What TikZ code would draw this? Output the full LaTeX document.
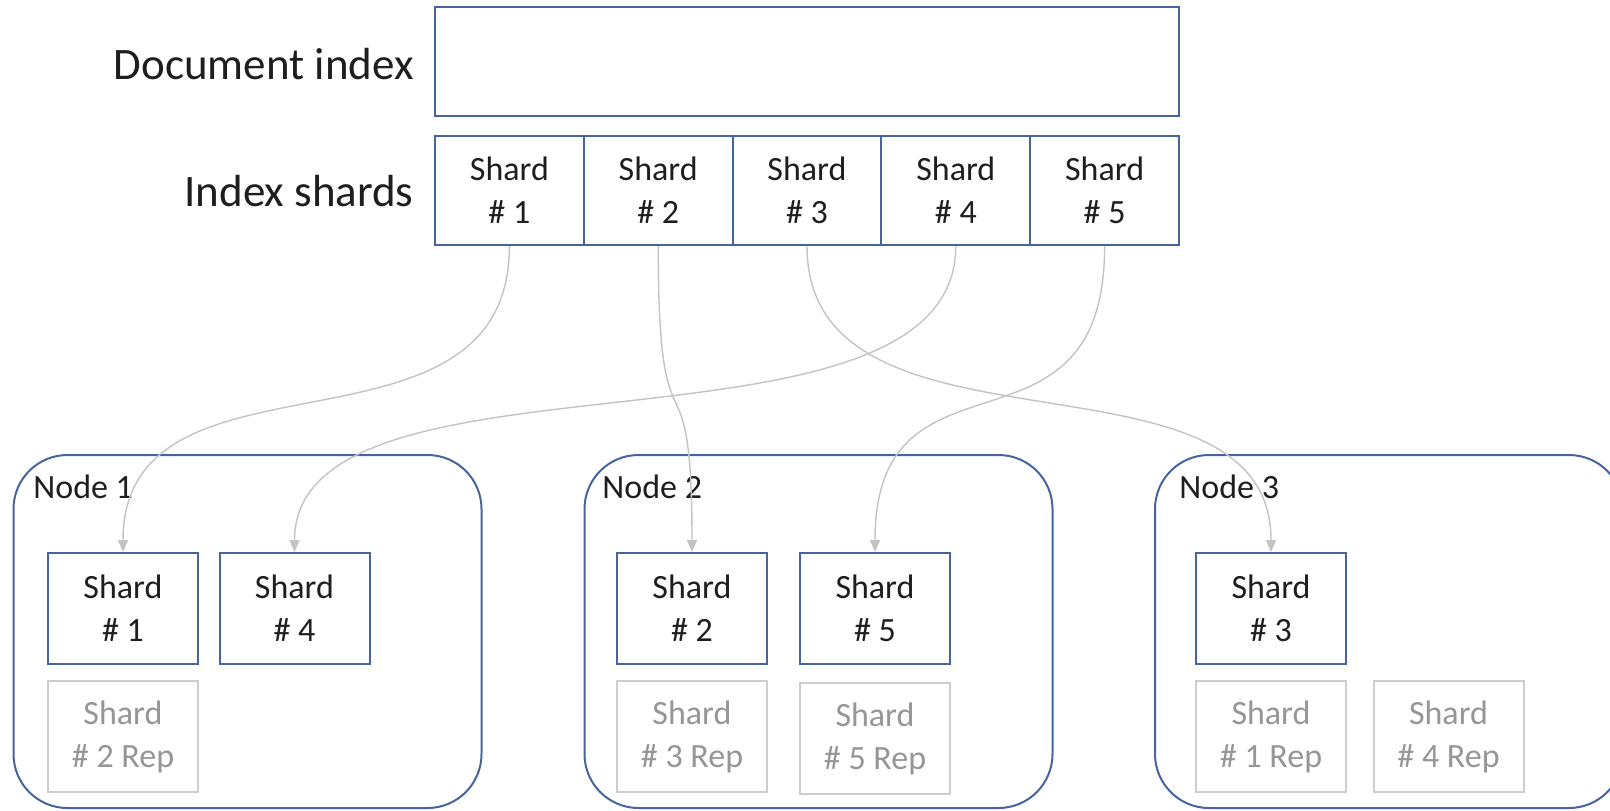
\documentclass[tikz,border=0pt]{standalone}
\usepackage{fontspec}
\setmainfont{Carlito}
\usetikzlibrary{arrows.meta}
\definecolor{boxblue}{RGB}{70,100,160}
\definecolor{repgray}{RGB}{205,205,205}
\definecolor{reptext}{RGB}{150,150,150}
\definecolor{arrowgray}{RGB}{195,195,195}
\definecolor{txt}{RGB}{30,30,30}
\tikzset{
  bigtext/.style={font=\fontsize{22.5pt}{27pt}\selectfont, text=txt, inner sep=0pt},
  smalltext/.style={font=\fontsize{17pt}{21.5pt}\selectfont, text=txt, inner sep=0pt},
  cell/.style={draw=boxblue, line width=1pt, fill=white, minimum width=74.4pt, minimum height=54.5pt, inner sep=0pt, align=center, font=\fontsize{17pt}{21.5pt}\selectfont, text=txt},
  shardbox/.style={draw=boxblue, line width=1pt, fill=white, minimum width=75pt, minimum height=55.5pt, inner sep=0pt, align=center, font=\fontsize{17pt}{21.5pt}\selectfont, text=txt},
  repbox/.style={draw=repgray, line width=1pt, fill=white, minimum width=75pt, minimum height=55.5pt, inner sep=0pt, align=center, font=\fontsize{17pt}{21.5pt}\selectfont, text=reptext},
  container/.style={draw=boxblue, line width=1pt, fill=white, rounded corners=27pt, minimum width=234pt, minimum height=176.5pt, inner sep=0pt},
  conn/.style={draw=arrowgray, line width=0.7pt, -{Triangle[width=5pt,length=6pt]}}
}
\begin{document}
\begin{tikzpicture}[x=0.5pt,y=-0.5pt]
\useasboundingbox (0,0) rectangle (1610,810);
\clip (0,0) rectangle (1610,810);
% top
\node[draw=boxblue, line width=1pt, minimum width=372pt, minimum height=54.5pt, inner sep=0pt] (doc) at (807,61.5) {};
\node[bigtext, anchor=east] (doclabel) at (414,64) {Document index};
\node[bigtext, anchor=east] (shardlabel) at (414,191) {Index shards};
\node[cell] (s1) at (509.4,190.5) {Shard\\\# 1};
\node[cell] (s2) at (658.2,190.5) {Shard\\\# 2};
\node[cell] (s3) at (807,190.5) {Shard\\\# 3};
\node[cell] (s4) at (955.8,190.5) {Shard\\\# 4};
\node[cell] (s5) at (1104.6,190.5) {Shard\\\# 5};
% containers
\node[container] (node1) at (247.5,631.5) {};
\node[container] (node2) at (818.5,631.5) {};
\node[container] (node3) at (1389,631.5) {};
\node[smalltext, anchor=west] (l1) at (33,487) {Node 1};
\node[smalltext, anchor=west] (l2) at (602,487) {Node 2};
\node[smalltext, anchor=west] (l3) at (1179,487) {Node 3};
% inner boxes
\node[shardbox] (n1s1) at (123,608.5) {Shard\\\# 1};
\node[shardbox] (n1s4) at (294.5,608.5) {Shard\\\# 4};
\node[repbox] (n1r2) at (123,736.5) {Shard\\\# 2 Rep};
\node[shardbox] (n2s2) at (692,608.5) {Shard\\\# 2};
\node[shardbox] (n2s5) at (875,608.5) {Shard\\\# 5};
\node[repbox] (n2r3) at (692,736.5) {Shard\\\# 3 Rep};
\node[repbox] (n2r5) at (875,738.5) {Shard\\\# 5 Rep};
\node[shardbox] (n3s3) at (1271,608.5) {Shard\\\# 3};
\node[repbox] (n3r1) at (1271,736.5) {Shard\\\# 1 Rep};
\node[repbox] (n3r4) at (1448.5,736.5) {Shard\\\# 4 Rep};
% connectors
\draw[conn] (s1.south) .. controls +(0,230) and +(0,-220) .. (n1s1.north);
\draw[conn] (s4.south) .. controls +(0,230) and +(0,-220) .. (n1s4.north);
\draw[conn] (s2.south) .. controls +(0,230) and +(0,-220) .. (n2s2.north);
\draw[conn] (s5.south) .. controls +(0,230) and +(0,-220) .. (n2s5.north);
\draw[conn] (s3.south) .. controls +(0,230) and +(0,-220) .. (n3s3.north);
\end{tikzpicture}
\end{document}
